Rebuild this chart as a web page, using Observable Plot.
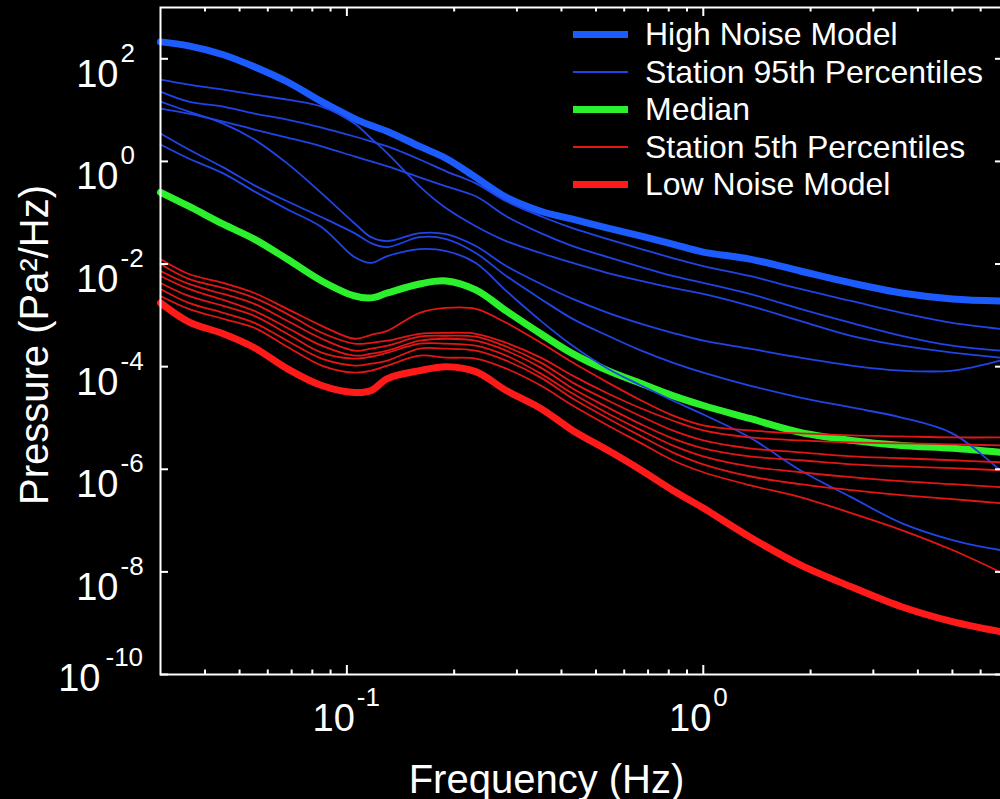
<!DOCTYPE html>
<html><head><meta charset="utf-8">
<script src="https://cdn.jsdelivr.net/npm/d3@7"></script>
<script src="https://cdn.jsdelivr.net/npm/@observablehq/plot@0.6"></script>
<style>
html,body{margin:0;padding:0;background:#000;overflow:hidden;}
#wrap{position:relative;width:1000px;height:799px;overflow:hidden;background:#000;}
#legend{position:absolute;left:573px;top:16px;font-family:"Liberation Sans",Arial,Helvetica,sans-serif;font-size:32px;color:#fff;}
.row{display:flex;align-items:center;height:37.5px;white-space:nowrap;}
.sw{width:55px;margin-right:17px;}
</style></head><body><div id="wrap"><div id="chart"></div><div id="legend"></div></div>
<script>
// Frequency grid (Hz)
const freq = [0.03,0.036,0.045,0.055,0.068,0.085,0.105,0.117,0.13,0.16,0.19,0.23,0.28,0.35,0.43,0.54,0.67,0.82,1.0,1.35,1.87,2.6,3.6,5,6.8];

// Pressure PSD values (Pa^2/Hz)
const highNoise = [214,179,120,70,35.7,14.6,6.84,5.0,3.83,1.96,1.14,0.489,0.2,0.107,0.0748,0.05,0.035,0.0245,0.0171,0.0125,0.00731,0.00428,0.00273,0.00209,0.00191];
const median = [0.25,0.134,0.0598,0.0306,0.0125,0.00468,0.00239,0.00219,0.00273,0.00409,0.00468,0.00313,0.00122,4.37e-4,1.79e-4,8.36e-5,4.68e-5,2.73e-5,1.75e-5,9.77e-6,5.23e-6,3.66e-6,2.92e-6,2.56e-6,2.14e-6];
const lowNoise = [1.75e-3,7.48e-4,4.37e-4,2.34e-4,9.14e-5,4.28e-5,3.13e-5,3.42e-5,5.85e-5,8.36e-5,1.0e-4,8.0e-5,3.42e-5,1.53e-5,5.72e-6,2.34e-6,9.57e-7,3.91e-7,1.75e-7,4.79e-8,1.37e-8,5.12e-9,2.09e-9,1.07e-9,6.84e-10];

const station95 = [
  [39.1,31.3,25.0,20.0,16.0,11.7,5.47,2.80,1.43,0.327,0.122,0.0547,0.028,0.0164,0.0105,0.00668,0.00468,0.00342,0.00261,0.00153,7.82e-4,4.0e-4,2.56e-4,1.87e-4,1.5e-4],
  [22.9,14.6,11.7,8.55,6.54,4.57,3.06,2.45,1.96,1.09,0.639,0.374,0.167,0.0855,0.05,0.0306,0.0196,0.0131,0.00914,0.00585,0.00327,0.00191,0.00112,7.15e-4,5.47e-4],
  [10.7,8.55,5.98,4.18,2.92,1.96,1.25,1.0,0.8,0.489,0.327,0.209,0.0855,0.04,0.0224,0.0137,0.00875,0.00585,0.00428,0.00261,0.00134,7.15e-4,4.0e-4,2.56e-4,2.05e-4],
  [14.6,9.35,5.47,2.67,0.915,0.239,0.0625,0.0334,0.028,0.04,0.0383,0.0224,0.00914,0.00409,0.00209,0.00112,6.84e-4,4.57e-4,3.2e-4,2.24e-4,1.5e-4,1.05e-4,8.36e-5,8.36e-5,1.31e-4],
  [3.5,1.71,0.765,0.342,0.167,0.0818,0.04,0.0256,0.0214,0.0334,0.0306,0.0164,0.00585,0.00209,8.55e-4,4.0e-4,2.05e-4,1.2e-4,7.65e-5,4.28e-5,2.5e-5,1.6e-5,1.02e-5,5.0e-6,9.57e-7],
  [2.14,1.14,0.585,0.261,0.117,0.0523,0.0137,0.0105,0.0143,0.0196,0.0179,0.0105,0.00299,7.82e-4,2.56e-4,9.14e-5,4.28e-5,2.19e-5,1.17e-5,4.18e-6,9.57e-7,2.86e-7,8.93e-8,4.18e-8,2.67e-8]
];
const station5 = [
  [0.0125,6.39e-3,4.28e-3,2.73e-3,1.34e-3,6.25e-4,3.5e-4,4.18e-4,5.0e-4,1.12e-3,1.4e-3,1.34e-3,7.15e-4,2.92e-4,1.2e-4,4.89e-5,2.19e-5,1.12e-5,7.15e-6,5.72e-6,5.0e-6,4.57e-6,4.37e-6,4.18e-6,4.18e-6],
  [0.01,5.12e-3,3.42e-3,2.19e-3,1.07e-3,4.57e-4,2.8e-4,2.92e-4,3.2e-4,4.37e-4,4.57e-4,4.37e-4,2.92e-4,1.5e-4,6.69e-5,2.99e-5,1.53e-5,8.93e-6,5.72e-6,4.18e-6,3.66e-6,3.34e-6,3.2e-6,3.06e-6,2.92e-6],
  [7.31e-3,4.09e-3,2.61e-3,1.67e-3,7.82e-4,3.5e-4,2.05e-4,2.24e-4,2.56e-4,3.83e-4,4.0e-4,3.83e-4,2.45e-4,1.2e-4,4.89e-5,2.19e-5,1.07e-5,5.72e-6,3.66e-6,2.56e-6,2.14e-6,1.79e-6,1.64e-6,1.5e-6,1.37e-6],
  [5.85e-3,3.27e-3,2.0e-3,1.22e-3,5.72e-4,2.56e-4,1.64e-4,1.79e-4,2.05e-4,3.2e-4,3.5e-4,3.2e-4,2.05e-4,9.57e-5,3.74e-5,1.6e-5,7.48e-6,4.0e-6,2.56e-6,1.79e-6,1.5e-6,1.25e-6,1.14e-6,1.05e-6,9.57e-7],
  [4.28e-3,2.39e-3,1.53e-3,9.77e-4,4.37e-4,1.87e-4,1.43e-4,1.56e-4,1.87e-4,2.8e-4,2.8e-4,2.56e-4,1.64e-4,7.31e-5,2.99e-5,1.22e-5,5.72e-6,2.92e-6,1.79e-6,1.14e-6,8.75e-7,7.0e-7,5.85e-7,5.12e-7,4.47e-7],
  [3.27e-3,1.75e-3,1.12e-3,7.15e-4,3.2e-4,1.43e-4,1.05e-4,1.14e-4,1.31e-4,2.24e-4,2.24e-4,2.05e-4,1.31e-4,6.11e-5,2.39e-5,9.77e-6,4.37e-6,2.14e-6,1.25e-6,7.31e-7,5.12e-7,3.91e-7,3.13e-7,2.61e-7,2.19e-7],
  [2.39e-3,1.34e-3,8.55e-4,5.72e-4,2.45e-4,1.05e-4,7.65e-5,8.36e-5,1.05e-4,1.64e-4,1.5e-4,1.43e-4,9.14e-5,4.28e-5,1.75e-5,7.15e-6,3.2e-6,1.5e-6,8.75e-7,4.89e-7,2.86e-7,1.4e-7,6.54e-8,2.67e-8,1.0e-8]
];

// Axis ticks
const xMajorTicks = [0.1, 1];
const xMinorTicks = [0.04,0.05,0.06,0.07,0.08,0.09,0.2,0.3,0.4,0.5,0.6,0.7,0.8,0.9,2,3,4,5,6];
const xTickExponents = ["-1", "0"];
const yTickExponents = [2, 0, -2, -4, -6, -8, -10];

const legendItems = [
  {label: "High Noise Model", color: "#1c5cff", width: 7},
  {label: "Station 95th Percentiles", color: "#2144e6", width: 2},
  {label: "Median", color: "#2cf02c", width: 7},
  {label: "Station 5th Percentiles", color: "#e31616", width: 2},
  {label: "Low Noise Model", color: "#ff1a1a", width: 7}
];

const toRows = (arr, series) => arr.map((p, i) => ({series, f: freq[i], p}));
const hnmRows = toRows(highNoise, "hnm");
const medRows = toRows(median, "median");
const lnmRows = toRows(lowNoise, "lnm");
const p95Rows = station95.flatMap((a, k) => toRows(a, "p95-" + k));
const p5Rows = station5.flatMap((a, k) => toRows(a, "p5-" + k));

const xLabels = xMajorTicks.map((v, i) => ({v, e: xTickExponents[i]}));
const yLabels = yTickExponents.map(e => ({v: Math.pow(10, e), e: String(e)}));
const yLabelsMain = yLabels.filter(d => d.e !== "-10");
const yLabelsBottom = yLabels.filter(d => d.e === "-10");

const FONT = '"Liberation Sans", Arial, Helvetica, sans-serif';
const W = 1004, H = 799, mL = 160, mR = 0, mT = 7, mB = 125;
const plotH = H - mT - mB, plotW = W - mL - mR;
const CURVE = "catmull-rom";

const chart = Plot.plot({
  width: W, height: H,
  marginLeft: mL, marginRight: mR, marginTop: mT, marginBottom: mB,
  style: {background: "black", color: "white", fontFamily: FONT, maxWidth: "none", overflow: "visible"},
  x: {type: "log", domain: [0.03, 7], axis: null},
  y: {type: "log", domain: [1e-10, 1e3], axis: null},
  marks: [
    Plot.line(hnmRows, {x: "f", y: "p", stroke: legendItems[0].color, strokeWidth: 7, curve: CURVE}),
    Plot.line(medRows, {x: "f", y: "p", stroke: legendItems[2].color, strokeWidth: 7, curve: CURVE}),
    Plot.line(lnmRows, {x: "f", y: "p", stroke: legendItems[4].color, strokeWidth: 7, curve: CURVE}),
    Plot.line(p95Rows, {x: "f", y: "p", z: "series", stroke: legendItems[1].color, strokeWidth: 1.8, curve: CURVE}),
    Plot.line(p5Rows, {x: "f", y: "p", z: "series", stroke: legendItems[3].color, strokeWidth: 1.8, curve: CURVE}),
    Plot.frame({stroke: "white", strokeWidth: 2}),
    // inward ticks
    Plot.tickX(xMajorTicks, {x: d => d, stroke: "white", strokeWidth: 2, insetTop: plotH - 9}),
    Plot.tickX(xMajorTicks, {x: d => d, stroke: "white", strokeWidth: 2, insetBottom: plotH - 9}),
    Plot.tickX(xMinorTicks, {x: d => d, stroke: "white", strokeWidth: 2, insetTop: plotH - 4.5}),
    Plot.tickX(xMinorTicks, {x: d => d, stroke: "white", strokeWidth: 2, insetBottom: plotH - 4.5}),
    Plot.tickY(yLabels, {y: "v", stroke: "white", strokeWidth: 2, insetRight: plotW - 8}),
    Plot.tickY(yLabels, {y: "v", stroke: "white", strokeWidth: 2, insetLeft: plotW - 9}),
    // x tick labels
    Plot.text(xLabels, {x: "v", text: () => "10", frameAnchor: "bottom", textAnchor: "end", lineAnchor: "bottom", dx: 8, dy: 56, fontSize: 38, fill: "white", fontFamily: FONT}),
    Plot.text(xLabels, {x: "v", text: "e", frameAnchor: "bottom", textAnchor: "start", lineAnchor: "bottom", dx: 10, dy: 31, fontSize: 26, fill: "white", fontFamily: FONT}),
    // y tick labels
    Plot.text(yLabelsMain, {y: "v", text: () => "10", frameAnchor: "left", textAnchor: "end", lineAnchor: "bottom", dx: -42, dy: 28, fontSize: 38, fill: "white", fontFamily: FONT}),
    Plot.text(yLabelsMain, {y: "v", text: "e", frameAnchor: "left", textAnchor: "start", lineAnchor: "bottom", dx: -40, dy: 3, fontSize: 26, fill: "white", fontFamily: FONT}),
    Plot.text(yLabelsBottom, {y: "v", text: () => "10", frameAnchor: "left", textAnchor: "end", lineAnchor: "bottom", dx: -60, dy: 16, fontSize: 38, fill: "white", fontFamily: FONT}),
    Plot.text(yLabelsBottom, {y: "v", text: "e", frameAnchor: "left", textAnchor: "start", lineAnchor: "bottom", dx: -55, dy: -9, fontSize: 26, fill: "white", fontFamily: FONT}),
    // axis titles
    Plot.text(["Frequency (Hz)"], {frameAnchor: "bottom", textAnchor: "middle", lineAnchor: "bottom", dx: -36, dy: 118, fontSize: 40, fill: "white", fontFamily: FONT}),
    Plot.text(["Pressure (Pa²/Hz)"], {frameAnchor: "left", textAnchor: "middle", lineAnchor: "bottom", rotate: -90, dx: -113, dy: 4, fontSize: 40, fill: "white", fontFamily: FONT})
  ]
});
document.getElementById("chart").appendChild(chart);

const legend = d3.select("#legend");
for (const item of legendItems) {
  const row = legend.append("div").attr("class", "row");
  row.append("div").attr("class", "sw").style("height", item.width + "px").style("background", item.color);
  row.append("span").text(item.label);
}
</script>
</body></html>
